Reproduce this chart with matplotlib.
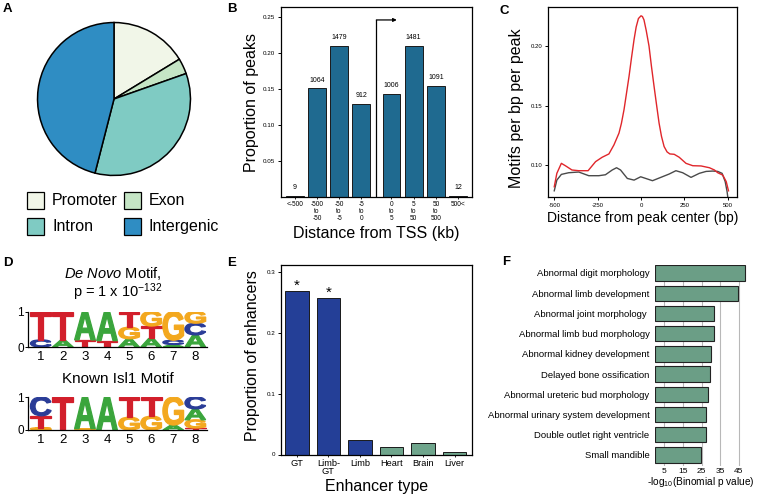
import numpy as np
import matplotlib
matplotlib.use("Agg")
import matplotlib.pyplot as plt
from matplotlib.patches import PathPatch, Rectangle
from matplotlib.textpath import TextPath
from matplotlib.font_manager import FontProperties
from matplotlib.transforms import Affine2D

plt.rcParams["font.family"] = ["Liberation Sans", "DejaVu Sans"]
plt.rcParams["mathtext.fontset"] = "custom"
plt.rcParams["mathtext.rm"] = "Liberation Sans"
plt.rcParams["mathtext.it"] = "Liberation Sans:italic"
plt.rcParams["mathtext.bf"] = "Liberation Sans:bold"
plt.rcParams["axes.unicode_minus"] = False
plt.rcParams["axes.linewidth"] = 0.9

W, H = 758, 497

# --- A: peak annotation (percent of peaks)
pie_labels = ["Promoter", "Exon", "Intron", "Intergenic"]
pie_values = [16.3, 3.3, 34.4, 46.0]
pie_colors = ["#f1f6e8", "#c5e5c5", "#7fcbc3", "#2f8dc3"]

# --- B: distance from TSS
tss_bins = ["<-500", "-500\nto\n-50", "-50\nto\n-5", "-5\nto\n0",
            "0\nto\n5", "5\nto\n50", "50\nto\n500", "500<"]
tss_counts = [9, 1064, 1479, 912, 1006, 1481, 1091, 12]

# --- C: motif density around peak centers
red_x = [-500, -485, -459, -436, -398, -359, -305, -262, -224, -185, -156,
         -127, -113, -98, -84, -69, -55, -40, -28, -15, 0, 8, 17, 30, 46, 60,
         75, 90, 104, 118, 133, 150, 166, 191, 220, 259, 298, 346, 394, 423,
         442, 471, 491, 504]
red_y = [0.0817, 0.093, 0.1014, 0.0994, 0.0958, 0.0952, 0.0952, 0.1028,
         0.1065, 0.1093, 0.1169, 0.1268, 0.135, 0.1465, 0.160, 0.1746, 0.190,
         0.2056, 0.216, 0.2231, 0.2254, 0.2248, 0.222, 0.213, 0.200, 0.183,
         0.1662, 0.150, 0.1352, 0.124, 0.1155, 0.111, 0.1093, 0.109, 0.1065,
         0.1014, 0.0994, 0.0992, 0.0977, 0.0958, 0.0935, 0.0915, 0.086, 0.0783]
gray_x = [-500, -485, -459, -417, -359, -301, -243, -205, -166, -141, -118,
          -79, -40, -2, 27, 66, 114, 162, 201, 240, 288, 336, 375, 413, 442,
          467, 485, 496, 502]
gray_y = [0.0783, 0.0873, 0.0921, 0.0935, 0.0941, 0.091, 0.091, 0.0918,
          0.0958, 0.0977, 0.0958, 0.0887, 0.0873, 0.0901, 0.0887, 0.0868,
          0.0896, 0.0924, 0.0952, 0.0935, 0.0896, 0.093, 0.0946, 0.0949,
          0.0946, 0.093, 0.086, 0.0775, 0.0704]

# --- D: motif logos, letter frequencies per position (bottom -> top)
denovo_motif = [
    [("C", 0.20), ("T", 0.80)],
    [("A", 0.19), ("T", 0.81)],
    [("T", 0.20), ("A", 0.80)],
    [("T", 0.18), ("A", 0.82)],
    [("A", 0.23), ("G", 0.33), ("T", 0.44)],
    [("A", 0.24), ("T", 0.35), ("G", 0.41)],
    [("A", 0.07), ("C", 0.12), ("G", 0.81)],
    [("A", 0.34), ("C", 0.33), ("G", 0.33)],
]
isl1_motif = [
    [("G", 0.07), ("T", 0.36), ("C", 0.57)],
    [("T", 1.00)],
    [("G", 0.04), ("A", 0.96)],
    [("A", 1.00)],
    [("G", 0.39), ("T", 0.61)],
    [("G", 0.42), ("T", 0.58)],
    [("A", 0.15), ("G", 0.85)],
    [("T", 0.06), ("G", 0.25), ("A", 0.33), ("C", 0.36)],
]
motif_positions = ["1", "2", "3", "4", "5", "6", "7", "8"]

# --- E: enhancer overlap
enh_types = ["GT", "Limb-\nGT", "Limb", "Heart", "Brain", "Liver"]
enh_props = [0.269, 0.257, 0.0236, 0.0121, 0.0187, 0.0040]
enh_signif = [True, True, False, False, False, False]
enh_colors = ["#243f97", "#243f97", "#243f97", "#6fa58c", "#6fa58c", "#6fa58c"]

# --- F: GREAT mouse phenotype terms
terms = ["Abnormal digit morphology", "Abnormal limb development",
         "Abnormal joint morphology ", "Abnormal limb bud morphology",
         "Abnormal kidney development", "Delayed bone ossification",
         "Abnormal ureteric bud morphology",
         "Abnormal urinary system development",
         "Double outlet right ventricle", "Small mandible"]
term_scores = [48.4, 44.4, 31.8, 31.9, 30.0, 29.3, 28.6, 27.6, 27.6, 24.7]

LOGO_COLORS = {"A": "#3aa53c", "C": "#2a3c97", "G": "#f3a81e", "T": "#d21f2b"}
LOGO_FONT = FontProperties(family="Liberation Sans", weight="bold")

fig = plt.figure(figsize=(W / 100, H / 100), dpi=100, facecolor="white")


def px_axes(left, top, right, bottom):
    return fig.add_axes([left / W, 1 - bottom / H, (right - left) / W, (bottom - top) / H])


def ftext(x, y, s, **kw):
    return fig.text(x / W, 1 - y / H, s, **kw)


def draw_logo(ax, motif, width=0.94):
    for pos, stack in enumerate(motif, start=1):
        base = 0.0
        for letter, h in stack:
            tp = TextPath((0, 0), letter, size=1, prop=LOGO_FONT)
            bb = tp.get_extents()
            tr = (Affine2D().translate(-bb.x0, -bb.y0)
                  .scale(width / bb.width, h / bb.height)
                  .translate(pos - width / 2, base))
            col = LOGO_COLORS[letter]
            # thin stroke in the letter colour to fatten the glyphs a bit
            ax.add_patch(PathPatch(tr.transform_path(tp), fc=col, ec=col,
                                   lw=0.9, joinstyle="miter"))
            base += h


# ---------------- A
ax = px_axes(36, 21, 192, 177)
ax.pie(pie_values, colors=pie_colors, startangle=90, counterclock=False,
       wedgeprops=dict(edgecolor="black", linewidth=1.1))
ax.set_xlim(-1.02, 1.02)
ax.set_ylim(-1.02, 1.02)

# ---------------- B
ax = px_axes(281, 7, 472, 197)
idx = np.arange(len(tss_bins))
xpos = idx + np.where(idx >= 4, 0.36, 0.0)
props = np.array(tss_counts) / sum(tss_counts)
ax.bar(xpos, props, width=0.8, color="#1f6a90", edgecolor="#1a1a1a", linewidth=0.7)
for x, p, n in zip(xpos, props, tss_counts):
    ax.annotate(str(n), (x, p), xytext=(0, 3.5), textcoords="offset points",
                ha="center", va="bottom", fontsize=5)
ax.plot([3.68, 3.68], [0.001, 0.246], color="black", lw=0.9)
ax.annotate("", xy=(4.6, 0.246), xytext=(3.68, 0.246),
            arrowprops=dict(arrowstyle="-|>", lw=0.9, color="black",
                            shrinkA=0, shrinkB=0, mutation_scale=5))
ax.set_xlim(-0.62, 7.99)
ax.set_ylim(0, 0.264)
ax.set_yticks([0.05, 0.10, 0.15, 0.20, 0.25])
ax.set_yticklabels(["0.05", "0.10", "0.15", "0.20", "0.25"])
ax.set_xticks(xpos)
ax.set_xticklabels(tss_bins, linespacing=0.95)
ax.tick_params(axis="y", labelsize=4.5, length=2.5, width=0.7, pad=1.5)
ax.tick_params(axis="x", labelsize=4.7, length=1.5, width=0.6, pad=1.5)
ftext(376, 233, "Distance from TSS (kb)", ha="center", va="center", fontsize=11.5)
ftext(251.5, 102, "Proportion of peaks", ha="center", va="center", rotation=90, fontsize=11.5)

# ---------------- C
ax = px_axes(548, 7, 737, 197)
ax.plot(gray_x, gray_y, color="#4a4a4a", lw=1.0)
ax.plot(red_x, red_y, color="#e0262b", lw=1.0)
ax.set_xlim(-536, 553)
ax.set_ylim(0.0731, 0.2328)
ax.set_xticks([-500, -250, 0, 250, 500])
ax.set_yticks([0.10, 0.15, 0.20])
ax.set_yticklabels(["0.10", "0.15", "0.20"])
ax.tick_params(labelsize=4.3, length=2.5, width=0.7, pad=1.5)
ftext(643, 218, "Distance from peak center (bp)", ha="center", va="center", fontsize=10)
ftext(516.5, 108, "Motifs per bp per peak", ha="center", va="center", rotation=90, fontsize=11.5)

# ---------------- D
for motif, (top, bottom) in [(denovo_motif, (311.5, 347)), (isl1_motif, (397, 430))]:
    ax = px_axes(28, top, 207, bottom)
    draw_logo(ax, motif)
    ax.set_xlim(0.42, 8.53)
    ax.set_ylim(0, 1)
    for s in ("top", "right"):
        ax.spines[s].set_visible(False)
    ax.set_yticks([0, 1])
    ax.set_yticklabels(["0", "1"])
    ax.set_xticks(range(1, len(motif) + 1))
    ax.set_xticklabels(motif_positions)
    ax.tick_params(axis="y", labelsize=8.5, length=2.5, width=0.7, pad=0.5)
    ax.tick_params(axis="x", labelsize=9.5, length=0, pad=3.2)
ftext(113, 273, r"$\mathit{De\ Novo}$ Motif,", ha="center", va="center", fontsize=10.5)
ftext(118, 292, r"p = 1 x 10$^{\mathregular{-132}}$", ha="center", va="center", fontsize=10.5)
ftext(118, 379, "Known Isl1 Motif", ha="center", va="center", fontsize=11)

# ---------------- E
ax = px_axes(281, 264.5, 472, 454.5)
ex = np.arange(len(enh_types))
ax.bar(ex, enh_props, width=0.75, color=enh_colors, edgecolor="#1a1a1a", linewidth=0.7)
for x, p, s in zip(ex, enh_props, enh_signif):
    if s:
        ax.annotate("*", (x, p), xytext=(0, 1), textcoords="offset points",
                    ha="center", va="baseline", fontsize=11)
ax.set_xlim(-0.5, 5.55)
ax.set_ylim(0, 0.313)
ax.set_yticks([0, 0.1, 0.2, 0.3])
ax.set_yticklabels(["0", "0.1", "0.2", "0.3"])
ax.set_xticks(ex)
ax.set_xticklabels(enh_types, linespacing=0.9)
ax.tick_params(axis="y", labelsize=4.5, length=2.5, width=0.7, pad=1.5)
ax.tick_params(axis="x", labelsize=6.7, length=1.5, width=0.6, pad=1.5)
ftext(377, 486, "Enhancer type", ha="center", va="center", fontsize=11.5)
ftext(253, 356, "Proportion of enhancers", ha="center", va="center", rotation=90, fontsize=11.5)

# ---------------- F
ax = px_axes(655, 265.3, 750, 466)
fy = np.arange(len(terms))
ax.barh(fy, term_scores, height=0.76, color="#6b9e86", edgecolor="#222222",
        linewidth=0.8, zorder=3)
ax.set_xlim(0, 51)
ax.set_ylim(len(terms) - 0.45, -0.38)
ax.set_xticks([5, 15, 25, 35, 45])
ax.set_yticks(fy)
ax.set_yticklabels(terms)
ax.grid(axis="x", color="#b8b8b8", lw=0.8, zorder=0)
for s in ax.spines.values():
    s.set_visible(False)
ax.tick_params(axis="y", labelsize=6.8, length=0, pad=4)
ax.tick_params(axis="x", labelsize=6, length=0, pad=1.5)
ftext(701, 485, r"-log$_{10}$(Binomial p value)", ha="center", va="baseline", fontsize=7.3)

# ---------------- overlay: pie legend and panel letters
ov = fig.add_axes([0, 0, 1, 1])
ov.set_xlim(0, W)
ov.set_ylim(H, 0)
ov.axis("off")
for i, (lab, col) in enumerate(zip(pie_labels, pie_colors)):
    bx = 27 + 97 * (i % 2)
    by = 192 + 26 * (i // 2)
    ov.add_patch(Rectangle((bx, by), 17, 17, facecolor=col, edgecolor="black", lw=0.9))
    ov.text(bx + 25, by + 8.5, lab, ha="left", va="center", fontsize=11.5)

for letter, (x, y) in zip("ABCDEF", [(3, 3.5), (227, 3.5), (499, 4.5),
                                      (3, 257.5), (227, 257.5), (502, 256)]):
    ftext(x, y, letter, ha="left", va="top", fontsize=9.5, fontweight="bold")

fig.savefig("out.png", dpi=100, facecolor="white")
